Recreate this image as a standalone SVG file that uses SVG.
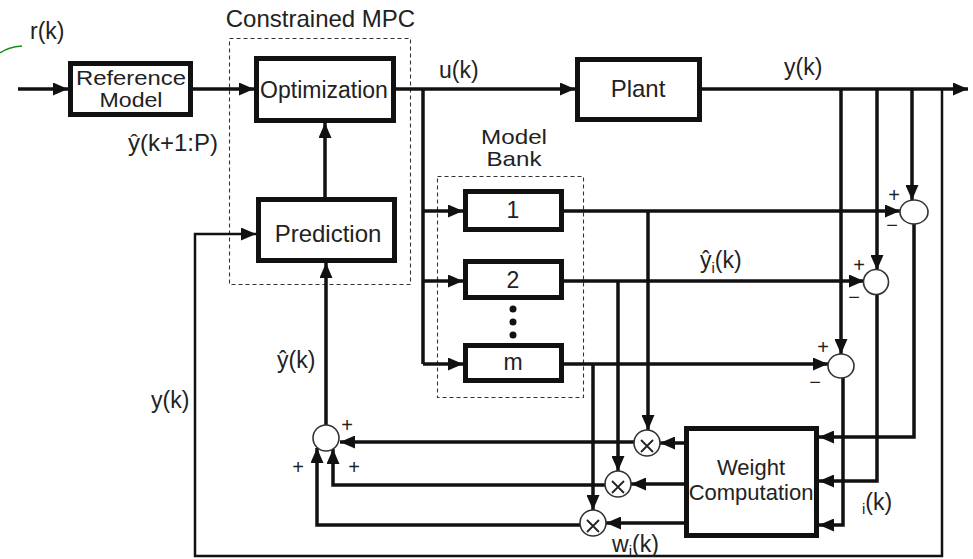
<svg xmlns="http://www.w3.org/2000/svg" width="973" height="559" viewBox="0 0 973 559">
<defs>
<marker id="ah" markerUnits="userSpaceOnUse" markerWidth="15" markerHeight="13" refX="15" refY="6.5" orient="auto">
<path d="M0,0 L15,6.5 L0,13 z" fill="#111"/>
</marker>
<style>
text{font-family:"Liberation Sans",Arial,sans-serif;fill:#222}
.box{fill:#fff;stroke:#111;stroke-width:5}
.dash{fill:none;stroke:#333;stroke-width:1.1;stroke-dasharray:4,3}
.c{fill:none;stroke:#111;stroke-width:3.5}
.ca{fill:none;stroke:#111;stroke-width:3.5;marker-end:url(#ah)}
.fb{fill:none;stroke:#111;stroke-width:2.5}
.fba{fill:none;stroke:#111;stroke-width:2.5;marker-end:url(#ah)}
.sum{fill:#fff;stroke:#333;stroke-width:1.6}
.t{font-size:23px}
.m{text-anchor:middle}
.s{font-size:20px;text-anchor:middle}
</style>
</defs>
<rect width="973" height="559" fill="#fff"/>

<path d="M0,53 Q8,47 22,46" fill="none" stroke="#1a8a1a" stroke-width="1.5"/>

<g id="constrained-mpc">
<rect class="dash" x="229.5" y="38.5" width="181" height="246"/>
<text class="m" x="320.5" y="27" font-size="24">Constrained MPC</text>
</g>
<g id="model-bank">
<rect class="dash" x="437.5" y="176.5" width="146" height="221"/>
<text class="m" x="514" y="144" font-size="21" textLength="66" lengthAdjust="spacingAndGlyphs">Model</text>
<text class="m" x="514" y="166" font-size="21" textLength="55" lengthAdjust="spacingAndGlyphs">Bank</text>
</g>

<g id="connectors">
<path class="ca" d="M18,89 H68"/>
<path class="ca" d="M193,89 H254"/>
<path class="ca" d="M396,89 H575"/>
<path class="ca" d="M702,89 H968"/>
<path class="c" d="M423,89 V364"/>
<path class="ca" d="M423,211 H463"/>
<path class="ca" d="M423,281 H463"/>
<path class="ca" d="M423,364 H463"/>
<path class="ca" d="M325,197 V123"/>
<path class="ca" d="M326,425 V263"/>
<path class="fba" d="M942,89 V556 H195 V234 H256"/>
<path class="ca" d="M912,89 V200"/>
<path class="ca" d="M877,89 V270"/>
<path class="ca" d="M841,89 V354"/>
<path class="ca" d="M564,211 H900"/>
<path class="ca" d="M564,281 H864"/>
<path class="ca" d="M564,364 H828"/>
<path class="ca" d="M648,211 V430"/>
<path class="ca" d="M618,281 V471"/>
<path class="ca" d="M593,364 V510"/>
<path class="ca" d="M914,224 V437 H819"/>
<path class="ca" d="M877,295 V481 H819"/>
<path class="ca" d="M843,378 V525 H819"/>
<path class="ca" d="M684,443 H660"/>
<path class="ca" d="M684,484 H631"/>
<path class="ca" d="M684,523 H606"/>
<path class="ca" d="M634,442 H340"/>
<path class="ca" d="M605,485 H333 V449"/>
<path class="ca" d="M580,525 H317 V448"/>
</g>

<g id="reference-model">
<rect class="box" x="70.5" y="63.5" width="120" height="51"/>
<text class="m" x="131" y="85" font-size="21" textLength="110" lengthAdjust="spacingAndGlyphs">Reference</text>
<text class="m" x="131" y="107" font-size="21" textLength="63" lengthAdjust="spacingAndGlyphs">Model</text>
</g>
<g id="optimization">
<rect class="box" x="256.5" y="58.5" width="137" height="62"/>
<text class="m t" x="324" y="98">Optimization</text>
</g>
<g id="prediction">
<rect class="box" x="258.5" y="199.5" width="136" height="61"/>
<text class="m" x="328" y="242" font-size="24">Prediction</text>
</g>
<g id="plant">
<rect class="box" x="577.5" y="59.5" width="122" height="60"/>
<text class="m" x="638" y="97" font-size="24">Plant</text>
</g>
<g id="model-1">
<rect class="box" x="465.5" y="191.5" width="96" height="38"/>
<text class="m t" x="513" y="218">1</text>
</g>
<g id="model-2">
<rect class="box" x="465.5" y="261.5" width="96" height="36"/>
<text class="m t" x="513" y="288">2</text>
</g>
<g id="dots">
<circle cx="513" cy="309" r="3.5" fill="#111"/>
<circle cx="513" cy="322" r="3.5" fill="#111"/>
<circle cx="513" cy="335" r="3.5" fill="#111"/>
</g>
<g id="model-m">
<rect class="box" x="465.5" y="345.5" width="96" height="35"/>
<text class="m t" x="513" y="370">m</text>
</g>
<g id="weight-computation">
<rect class="box" x="686.5" y="428.5" width="130" height="107"/>
<text class="m" x="751" y="475" font-size="22">Weight</text>
<text class="m" x="751" y="500" font-size="22">Computation</text>
</g>

<g id="sum-1">
<ellipse class="sum" cx="914" cy="212" rx="14" ry="12"/>
<text class="s" x="894" y="202">+</text>
<text class="s" x="892" y="232">−</text>
</g>
<g id="sum-2">
<ellipse class="sum" cx="876" cy="282" rx="12.5" ry="12.5"/>
<text class="s" x="859" y="272">+</text>
<text class="s" x="854" y="304">−</text>
</g>
<g id="sum-3">
<ellipse class="sum" cx="841" cy="366" rx="13" ry="12"/>
<text class="s" x="823" y="354">+</text>
<text class="s" x="815" y="389">−</text>
</g>
<g id="sum-out">
<circle class="sum" cx="326" cy="438" r="13"/>
<text class="s" x="347" y="432">+</text>
<text class="s" x="298" y="474">+</text>
<text class="s" x="354" y="474">+</text>
</g>
<g id="mult-1">
<circle class="sum" cx="647" cy="443" r="13"/>
<path d="M641,440 L653,452 M653,440 L641,452" stroke="#222" stroke-width="1.8"/>
</g>
<g id="mult-2">
<circle class="sum" cx="618" cy="484" r="13"/>
<path d="M612,481 L624,493 M624,481 L612,493" stroke="#222" stroke-width="1.8"/>
</g>
<g id="mult-3">
<circle class="sum" cx="593" cy="523" r="13"/>
<path d="M587,520 L599,532 M599,520 L587,532" stroke="#222" stroke-width="1.8"/>
</g>

<g id="labels">
<text class="t" x="30" y="39">r(k)</text>
<text class="t" x="439" y="78">u(k)</text>
<text class="t" x="784" y="75">y(k)</text>
<text x="128" y="151" font-size="24">ŷ(k+1:P)</text>
<text class="t" x="700" y="268">ŷ<tspan font-size="15" dy="5">i</tspan><tspan dy="-5">(k)</tspan></text>
<text class="t" x="277" y="368">ŷ(k)</text>
<text class="t" x="151" y="408">y(k)</text>
<text class="t" x="862" y="510"><tspan font-size="15" dy="4">i</tspan><tspan dy="-4">(k)</tspan></text>
<text class="t" x="612" y="552">w<tspan font-size="15" dy="4">i</tspan><tspan dy="-4">(k)</tspan></text>
</g>
</svg>
